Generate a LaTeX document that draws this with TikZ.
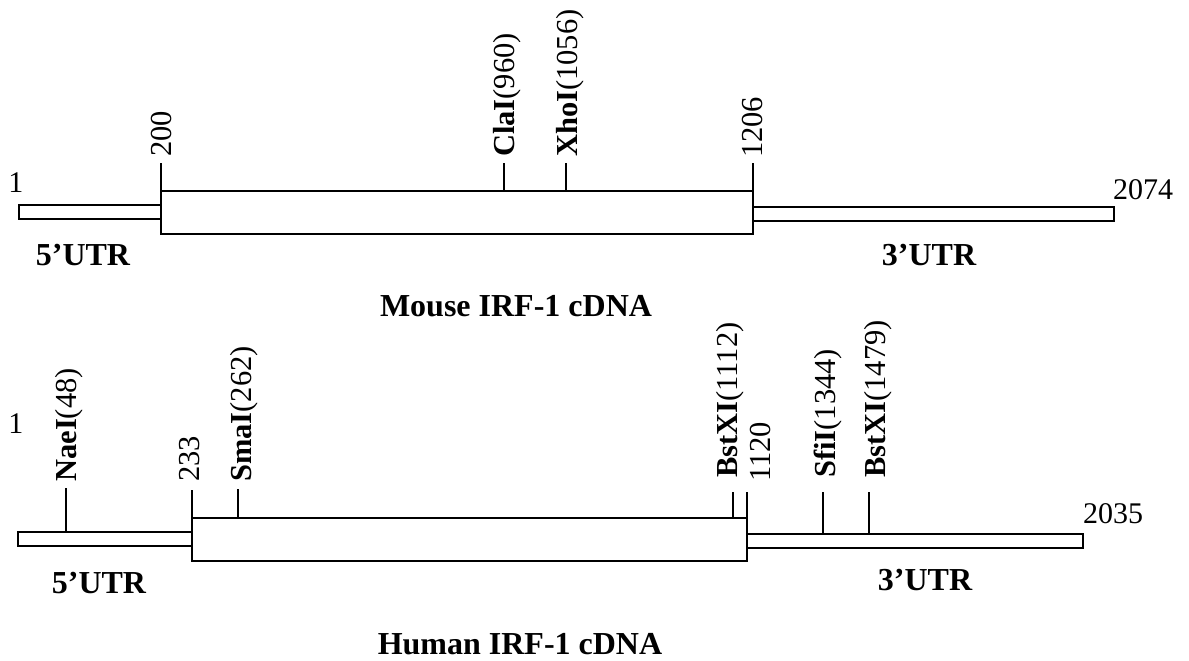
\documentclass[tikz,border=0pt]{standalone}
\usepackage{fontspec}
\setmainfont{Liberation Serif}
\begin{document}
\begin{tikzpicture}[x=1pt,y=-1pt,
  bar/.style={draw,line width=1.8pt,fill=white},
  tk/.style={line width=1.8pt},
  num/.style={font=\fontsize{30}{36}\selectfont,inner sep=0pt},
  bold/.style={font=\bfseries\fontsize{32}{36}\selectfont,inner sep=0pt},
  site/.style={rotate=90,anchor=base west,inner sep=0pt,font=\fontsize{30.5}{36}\selectfont}]
\useasboundingbox (0,0) rectangle (1189,661);

% ---------------- Mouse ----------------
\draw[bar] (19,205) rectangle (161,219);
\draw[bar] (753,207) rectangle (1114,221);
\draw[bar] (161,191) rectangle (753,234);
\coordinate (mb200) at (161,191);
\coordinate (mb960) at (504,191);
\coordinate (mb1056) at (566,191);
\coordinate (mb1206) at (753,191);
\coordinate (mt200) at (161,163);
\coordinate (mt960) at (504,163);
\coordinate (mt1056) at (566,163);
\coordinate (mt1206) at (753,163);
\draw[tk] (mb200) -- (mt200);
\draw[tk] (mb960) -- (mt960);
\draw[tk] (mb1056) -- (mt1056);
\draw[tk] (mb1206) -- (mt1206);
\node[site] (ml200) at (171,157) {200};
\node[site] (mlcla) at (514,157) {\textbf{ClaI}(960)};
\node[site] (mlxho) at (577,157) {\textbf{XhoI}(1056)};
\node[site] (ml1206) at (762,158) {1206};
\node[num,anchor=base] (mone) at (16,192) {1};
\node[num,anchor=base] (mend) at (1143,199) {2074};
\node[bold] (m5) at (83,255) {5’UTR};
\node[bold] (m3) at (929,255) {3’UTR};
\node[bold] (mtitle) at (516,306) {Mouse IRF-1 cDNA};

% ---------------- Human ----------------
\draw[bar] (18,532) rectangle (192,546);
\draw[bar] (747,534) rectangle (1083,548);
\draw[bar] (192,518) rectangle (747,561);
\coordinate (hb48) at (66,532);
\coordinate (hb233) at (192,518);
\coordinate (hb262) at (238,518);
\coordinate (hb1112) at (733,518);
\coordinate (hb1120) at (747,518);
\coordinate (hb1344) at (823,534);
\coordinate (hb1479) at (869,534);
\coordinate (ht48) at (66,488);
\coordinate (ht233) at (192,490);
\coordinate (ht262) at (238,489);
\coordinate (ht1112) at (733,492);
\coordinate (ht1120) at (747,492);
\coordinate (ht1344) at (823,492);
\coordinate (ht1479) at (869,492);
\draw[tk] (hb48) -- (ht48);
\draw[tk] (hb233) -- (ht233);
\draw[tk] (hb262) -- (ht262);
\draw[tk] (hb1112) -- (ht1112);
\draw[tk] (hb1120) -- (ht1120);
\draw[tk] (hb1344) -- (ht1344);
\draw[tk] (hb1479) -- (ht1479);
\node[site] (hlnae) at (76,482) {\textbf{NaeI}(48)};
\node[site] (hl233) at (199,482) {233};
\node[site] (hlsma) at (251,482) {\textbf{SmaI}(262)};
\node[site] (hlbst1) at (737,478) {\textbf{BstXI}(1112)};
\node[site] (hl1120) at (770,482) {1120};
\node[site] (hlsfi) at (835,478) {\textbf{SfiI}(1344)};
\node[site] (hlbst2) at (885,478) {\textbf{BstXI}(1479)};
\node[num,anchor=base] (hone) at (16,433) {1};
\node[num,anchor=base] (hend) at (1113,523) {2035};
\node[bold] (h5) at (99,583) {5’UTR};
\node[bold] (h3) at (925,580) {3’UTR};
\node[bold] (htitle) at (520,644) {Human IRF-1 cDNA};
\end{tikzpicture}
\end{document}
